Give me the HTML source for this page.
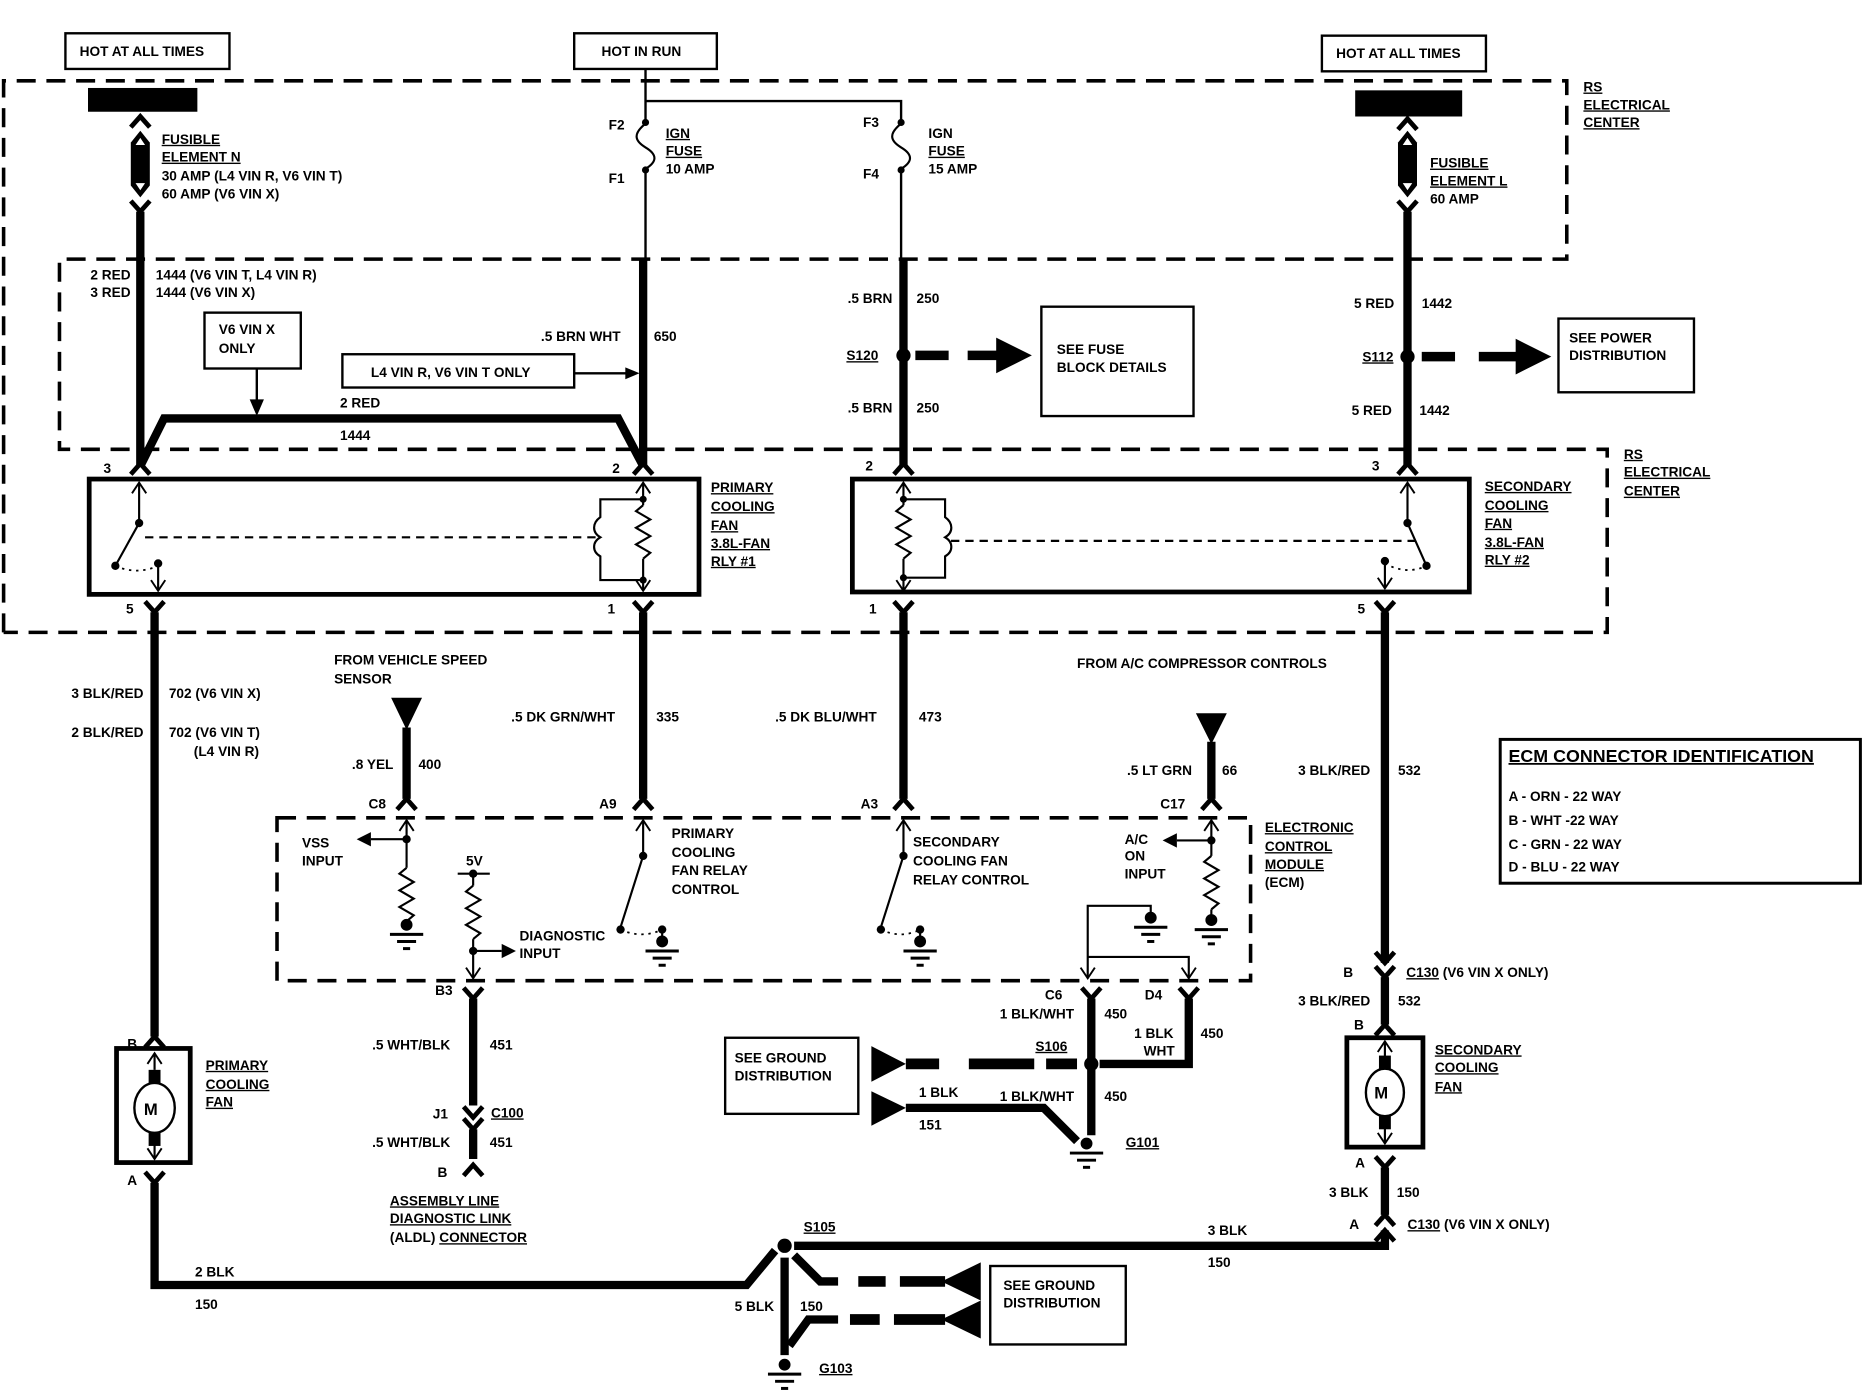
<!DOCTYPE html>
<html><head><meta charset="utf-8"><style>
html,body{margin:0;padding:0;background:#fff}
svg{display:block}
text{font-family:"Liberation Sans",sans-serif;font-weight:bold;font-size:11.5px;fill:#000}
.u{text-decoration:underline}
</style></head><body>
<svg width="1864" height="1392" viewBox="0 0 1568 1171" xmlns="http://www.w3.org/2000/svg">
<defs>
<g id="gnd"><circle cx="0" cy="0" r="5"/><line x1="-14" y1="8" x2="14" y2="8" stroke="#000" stroke-width="2.5"/><line x1="-8" y1="14" x2="8" y2="14" stroke="#000" stroke-width="2.5"/><line x1="-3" y1="20" x2="3" y2="20" stroke="#000" stroke-width="2.5"/></g>
<path id="up" d="M-8,9 L0,0 L8,9" fill="none" stroke="#000" stroke-width="4"/>
<path id="dn" d="M-8,-9 L0,0 L8,-9" fill="none" stroke="#000" stroke-width="4"/>
<path id="tup" d="M-6,9 L0,0 L6,9" fill="none" stroke="#000" stroke-width="1.6"/>
<path id="tdn" d="M-6,-9 L0,0 L6,-9" fill="none" stroke="#000" stroke-width="1.6"/>
<path id="res" d="M0,0 L-6,5 L6,12 L-6,19 L6,26 L-6,33 L6,40 L0,45" fill="none" stroke="#000" stroke-width="1.8"/>
</defs>
<g fill="none" stroke="#000">
<!-- top boxes -->
<rect x="55" y="28" width="138" height="30" stroke-width="2"/>
<rect x="483" y="28" width="120" height="30" stroke-width="2"/>
<rect x="1112" y="30" width="138" height="30" stroke-width="2"/>
<!-- dashed regions -->
<path d="M3,532 V68 H1318 V218 H50 V378 H1352 V532 H3" stroke-width="3" stroke-dasharray="16 9"/>
<rect x="233" y="688" width="819" height="137" stroke-width="3" stroke-dasharray="16 9"/>
<!-- left feed -->
<use href="#up" x="118" y="98"/>
<use href="#dn" x="118" y="178"/>
<line x1="118" y1="178" x2="118" y2="392" stroke-width="7"/>
<polyline points="118,392 138,352 520,352 541,392" stroke-width="7"/>
<rect x="172" y="263" width="81" height="47" stroke-width="2"/>
<line x1="216" y1="310" x2="216" y2="340" stroke-width="2"/>
<rect x="288" y="298" width="195" height="28" stroke-width="2"/>
<line x1="483" y1="314" x2="528" y2="314" stroke-width="2"/>
<!-- hot in run -->
<path d="M543,58 V102 M543,142 V218 M543,85 H758 V102 M758,142 V218" stroke-width="2"/>
<path d="M543,104 C533,112 533,118 543,124 C553,130 553,136 543,142" stroke-width="1.8"/>
<path d="M758,104 C748,112 748,118 758,124 C768,130 768,136 758,142" stroke-width="1.8"/>
<line x1="541" y1="218" x2="541" y2="392" stroke-width="7"/>
<line x1="760" y1="218" x2="760" y2="392" stroke-width="7"/>
<line x1="770" y1="299" x2="798" y2="299" stroke-width="8"/>
<line x1="814" y1="299" x2="842" y2="299" stroke-width="8"/>
<rect x="876" y="258" width="128" height="92" stroke-width="2"/>
<!-- right feed -->
<use href="#up" x="1184" y="100"/>
<use href="#dn" x="1184" y="178"/>
<line x1="1184" y1="178" x2="1184" y2="392" stroke-width="7"/>
<line x1="1196" y1="300" x2="1224" y2="300" stroke-width="8"/>
<line x1="1244" y1="300" x2="1278" y2="300" stroke-width="8"/>
<rect x="1311" y="268" width="114" height="62" stroke-width="2"/>
<!-- relay 1 -->
<rect x="75" y="403" width="513" height="97" stroke-width="4"/>
<use href="#up" x="118" y="390"/><use href="#up" x="541" y="390"/>
<use href="#tup" x="117" y="406"/><use href="#tup" x="541" y="406"/>
<path d="M117,406 V440 L97,476" stroke-width="1.8"/>
<path d="M97,476 Q115,484 133,476" stroke-width="1.5" stroke-dasharray="2 4"/>
<path d="M133,474 V497" stroke-width="1.8"/><use href="#tdn" x="133" y="497"/>
<line x1="122" y1="452" x2="503" y2="452" stroke-width="1.8" stroke-dasharray="7 5"/>
<path d="M541,406 V425 M541,470 V497" stroke-width="1.8"/><use href="#res" x="541" y="425"/>
<path d="M541,420 H505 V435 C498,440 498,448 505,452 C498,456 498,464 505,468 V488 H541" stroke-width="1.8"/>
<use href="#tdn" x="541" y="497"/>
<use href="#dn" x="130" y="515"/><use href="#dn" x="541" y="515"/>
<!-- relay 2 -->
<rect x="717" y="403" width="519" height="95" stroke-width="4"/>
<use href="#up" x="760" y="390"/><use href="#up" x="1184" y="390"/>
<use href="#tup" x="760" y="406"/><use href="#tup" x="1184" y="406"/>
<path d="M760,406 V425 M760,470 V497" stroke-width="1.8"/><use href="#res" x="760" y="425"/>
<path d="M760,420 H795 V435 C802,440 802,448 795,452 C802,456 802,464 795,468 V486 H760" stroke-width="1.8"/>
<use href="#tdn" x="760" y="497"/>
<line x1="800" y1="455" x2="1193" y2="455" stroke-width="1.8" stroke-dasharray="7 5"/>
<path d="M1184,406 V440 L1200,476" stroke-width="1.8"/>
<path d="M1165,474 Q1183,484 1200,476" stroke-width="1.5" stroke-dasharray="2 4"/>
<path d="M1165,472 V495" stroke-width="1.8"/><use href="#tdn" x="1165" y="495"/>
<use href="#dn" x="760" y="515"/><use href="#dn" x="1165" y="515"/>
<!-- down wires -->
<line x1="130" y1="515" x2="130" y2="872" stroke-width="7"/>
<line x1="541" y1="515" x2="541" y2="672" stroke-width="7"/>
<line x1="760" y1="515" x2="760" y2="672" stroke-width="7"/>
<line x1="1165" y1="515" x2="1165" y2="810" stroke-width="7"/>
<line x1="342" y1="612" x2="342" y2="672" stroke-width="7"/>
<line x1="1019" y1="624" x2="1019" y2="672" stroke-width="7"/>
<use href="#up" x="130" y="872"/><use href="#up" x="342" y="672"/><use href="#up" x="541" y="672"/><use href="#up" x="760" y="672"/><use href="#up" x="1019" y="672"/>
<use href="#tup" x="342" y="690"/><use href="#tup" x="541" y="690"/><use href="#tup" x="760" y="690"/><use href="#tup" x="1019" y="690"/>
<!-- ECM internals -->
<path d="M342,690 V730 M342,775 V778 M342,706 H312" stroke-width="1.8"/><use href="#res" x="342" y="730"/>
<path d="M385,735 H412 M398,735 V745 M398,790 V823 M398,800 H422" stroke-width="1.8"/><use href="#res" x="398" y="745"/>
<use href="#tdn" x="398" y="823"/>
<path d="M541,690 V720 L522,780 M557,782 V790" stroke-width="1.8"/>
<path d="M522,782 Q540,790 557,782" stroke-width="1.5" stroke-dasharray="2 4"/>
<path d="M760,690 V720 L741,780 M774,782 V790" stroke-width="1.8"/>
<path d="M741,782 Q758,790 774,782" stroke-width="1.5" stroke-dasharray="2 4"/>
<path d="M1019,690 V720 M1019,765 V772 M1019,707 H990" stroke-width="1.8"/><use href="#res" x="1019" y="720"/>
<path d="M968,770 V762 H915 V823 M915,805 H1000 V823" stroke-width="1.8"/>
<use href="#tdn" x="915" y="823"/><use href="#tdn" x="1000" y="823"/>
<!-- lower ECM -->
<use href="#dn" x="398" y="840"/><use href="#dn" x="918" y="840"/><use href="#dn" x="1000" y="840"/>
<line x1="398" y1="840" x2="398" y2="930" stroke-width="7"/>
<use href="#dn" x="398" y="940"/><use href="#dn" x="398" y="950"/>
<line x1="398" y1="950" x2="398" y2="975" stroke-width="7"/>
<use href="#up" x="398" y="980"/>
<line x1="918" y1="840" x2="918" y2="955" stroke-width="7"/>
<polyline points="1000,840 1000,895 925,895" stroke-width="7"/>
<line x1="762" y1="895" x2="790" y2="895" stroke-width="9"/>
<line x1="815" y1="895" x2="870" y2="895" stroke-width="9"/>
<line x1="880" y1="895" x2="906" y2="895" stroke-width="9"/>
<rect x="610" y="873" width="112" height="64" stroke-width="2"/>
<polyline points="762,932 878,932 906,960" stroke-width="7"/>
<!-- secondary fan -->
<use href="#dn" x="1165" y="810"/><use href="#dn" x="1165" y="822"/>
<line x1="1165" y1="822" x2="1165" y2="862" stroke-width="7"/>
<use href="#up" x="1165" y="862"/>
<rect x="1133" y="873" width="64" height="92" stroke-width="4"/>
<use href="#tup" x="1165" y="876"/>
<path d="M1165,876 V890 M1165,940 V962" stroke-width="1.8"/>
<rect x="1160" y="888" width="10" height="14" fill="#000" stroke="none"/>
<rect x="1160" y="936" width="10" height="14" fill="#000" stroke="none"/>
<ellipse cx="1165" cy="919" rx="16" ry="20" stroke-width="2" fill="#fff"/>
<use href="#tdn" x="1165" y="962"/>
<use href="#dn" x="1165" y="982"/>
<line x1="1165" y1="982" x2="1165" y2="1022" stroke-width="7"/>
<use href="#up" x="1165" y="1022"/>
<use href="#up" x="1165" y="1035"/>
<!-- primary fan -->
<rect x="98" y="882" width="62" height="96" stroke-width="4"/>
<use href="#tup" x="130" y="886"/>
<path d="M130,886 V900 M130,952 V975" stroke-width="1.8"/>
<rect x="125" y="900" width="10" height="14" fill="#000" stroke="none"/>
<rect x="125" y="950" width="10" height="14" fill="#000" stroke="none"/>
<ellipse cx="130" cy="932" rx="17" ry="21" stroke-width="2" fill="#fff"/>
<use href="#tdn" x="130" y="975"/>
<use href="#dn" x="130" y="995"/>
<polyline points="130,995 130,1081 628,1081 652,1052" stroke-width="7"/>
<polyline points="668,1048 1165,1048 1165,1035" stroke-width="7"/>
<polyline points="660,1058 660,1140" stroke-width="7"/>
<polyline points="668,1056 690,1078 705,1078" stroke-width="7"/>
<line x1="722" y1="1078" x2="745" y2="1078" stroke-width="9"/><line x1="757" y1="1078" x2="795" y2="1078" stroke-width="9"/>
<polyline points="664,1132 680,1110 705,1110" stroke-width="7"/>
<line x1="715" y1="1110" x2="740" y2="1110" stroke-width="9"/><line x1="752" y1="1110" x2="795" y2="1110" stroke-width="9"/>
<rect x="833" y="1065" width="114" height="66" stroke-width="2"/>
<!-- ECM id box -->
<rect x="1262" y="622" width="303" height="121" stroke-width="2.5"/>
</g>
<g fill="#000">
<rect x="74" y="74" width="92" height="20"/>
<rect x="1140" y="76" width="90" height="22"/>
<path d="M110,120 L118,110 L126,120 V156 L118,166 L110,156 Z"/>
<path d="M1176,120 L1184,110 L1192,120 V156 L1184,166 L1176,156 Z"/>
<path d="M114,122 L118,116 L122,122 Z M114,154 L118,160 L122,154 Z M1180,122 L1184,116 L1188,122 Z M1180,154 L1184,160 L1188,154 Z" fill="#fff"/>
<circle cx="543" cy="103" r="3"/><circle cx="543" cy="143" r="3"/><circle cx="758" cy="103" r="3"/><circle cx="758" cy="143" r="3"/>
<path d="M210,336 L216,350 L222,336 Z"/>
<path d="M526,309 L538,314 L526,319 Z"/>
<circle cx="760" cy="299" r="6"/><path d="M838,284 L868,299 L838,314 Z"/>
<circle cx="1184" cy="300" r="6"/><path d="M1275,285 L1305,300 L1275,315 Z"/>
<circle cx="117" cy="440" r="3.5"/><circle cx="97" cy="476" r="3.5"/><circle cx="133" cy="474" r="3.5"/>
<circle cx="541" cy="420" r="3"/><circle cx="541" cy="488" r="3"/>
<circle cx="760" cy="420" r="3"/><circle cx="760" cy="486" r="3"/>
<circle cx="1184" cy="440" r="3.5"/><circle cx="1200" cy="476" r="3.5"/><circle cx="1165" cy="472" r="3.5"/>
<path d="M329,587 L355,587 L342,614 Z"/><path d="M1006,600 L1032,600 L1019,626 Z"/>
<circle cx="342" cy="706" r="3.5"/><path d="M312,700 L300,706 L312,712 Z"/>
<circle cx="398" cy="735" r="3.5"/><circle cx="398" cy="800" r="3.5"/><path d="M422,794 L434,800 L422,806 Z"/>
<circle cx="541" cy="720" r="3.5"/><circle cx="522" cy="782" r="3.5"/><circle cx="557" cy="782" r="3.5"/>
<circle cx="760" cy="720" r="3.5"/><circle cx="741" cy="782" r="3.5"/><circle cx="774" cy="782" r="3.5"/>
<circle cx="1019" cy="707" r="3.5"/><path d="M990,701 L978,707 L990,713 Z"/>
<use href="#gnd" x="342" y="778"/><use href="#gnd" x="557" y="792"/><use href="#gnd" x="774" y="792"/><use href="#gnd" x="968" y="772"/><use href="#gnd" x="1019" y="774"/>
<circle cx="918" cy="895" r="6"/>
<path d="M733,880 L762,895 L733,910 Z"/><path d="M733,918 L762,932 L733,947 Z"/>
<use href="#gnd" x="914" y="962"/>
<circle cx="660" cy="1048" r="6"/>
<path d="M825,1062 L792,1078 L825,1094 Z"/><path d="M825,1094 L792,1110 L825,1126 Z"/>
<use href="#gnd" x="660" y="1148"/>
</g>
<g>
<text x="67" y="47">HOT AT ALL TIMES</text>
<text x="506" y="47">HOT IN RUN</text>
<text x="1124" y="49">HOT AT ALL TIMES</text>
<text x="136" y="121" class="u">FUSIBLE</text><text x="136" y="136" class="u">ELEMENT N</text>
<text x="136" y="152">30 AMP (L4 VIN R, V6 VIN T)</text><text x="136" y="167">60 AMP (V6 VIN X)</text>
<text x="512" y="109">F2</text><text x="512" y="154">F1</text>
<text x="560" y="116" class="u">IGN</text><text x="560" y="131" class="u">FUSE</text><text x="560" y="146">10 AMP</text>
<text x="726" y="107">F3</text><text x="726" y="150">F4</text>
<text x="781" y="116">IGN</text><text x="781" y="131" class="u">FUSE</text><text x="781" y="146">15 AMP</text>
<text x="1332" y="77" class="u">RS</text><text x="1332" y="92" class="u">ELECTRICAL</text><text x="1332" y="107" class="u">CENTER</text>
<text x="1203" y="141" class="u">FUSIBLE</text><text x="1203" y="156" class="u">ELEMENT L</text><text x="1203" y="171">60 AMP</text>
<text x="76" y="235">2 RED</text><text x="131" y="235">1444 (V6 VIN T, L4 VIN R)</text>
<text x="76" y="250">3 RED</text><text x="131" y="250">1444 (V6 VIN X)</text>
<text x="184" y="281">V6 VIN X</text><text x="184" y="297">ONLY</text>
<text x="312" y="317">L4 VIN R, V6 VIN T ONLY</text>
<text x="455" y="287">.5 BRN WHT</text><text x="550" y="287">650</text>
<text x="286" y="343">2 RED</text><text x="286" y="370">1444</text>
<text x="713" y="255">.5 BRN</text><text x="771" y="255">250</text>
<text x="713" y="347">.5 BRN</text><text x="771" y="347">250</text>
<text x="712" y="303" class="u">S120</text>
<text x="889" y="298">SEE FUSE</text><text x="889" y="313">BLOCK DETAILS</text>
<text x="1139" y="259">5 RED</text><text x="1196" y="259">1442</text>
<text x="1137" y="349">5 RED</text><text x="1194" y="349">1442</text>
<text x="1146" y="304" class="u">S112</text>
<text x="1320" y="288">SEE POWER</text><text x="1320" y="303">DISTRIBUTION</text>
<text x="87" y="398">3</text><text x="515" y="398">2</text><text x="728" y="396">2</text><text x="1154" y="396">3</text>
<text x="106" y="516">5</text><text x="511" y="516">1</text><text x="731" y="516">1</text><text x="1142" y="516">5</text>
<text x="598" y="414" class="u">PRIMARY</text><text x="598" y="430" class="u">COOLING</text><text x="598" y="446" class="u">FAN</text><text x="598" y="461" class="u">3.8L-FAN</text><text x="598" y="476" class="u">RLY #1</text>
<text x="1249" y="413" class="u">SECONDARY</text><text x="1249" y="429" class="u">COOLING</text><text x="1249" y="444" class="u">FAN</text><text x="1249" y="460" class="u">3.8L-FAN</text><text x="1249" y="475" class="u">RLY #2</text>
<text x="1366" y="386" class="u">RS</text><text x="1366" y="401" class="u">ELECTRICAL</text><text x="1366" y="417" class="u">CENTER</text>
<text x="281" y="559">FROM VEHICLE SPEED</text><text x="281" y="575">SENSOR</text>
<text x="906" y="562">FROM A/C COMPRESSOR CONTROLS</text>
<text x="60" y="587">3 BLK/RED</text><text x="142" y="587">702 (V6 VIN X)</text>
<text x="60" y="620">2 BLK/RED</text><text x="142" y="620">702 (V6 VIN T)</text><text x="163" y="636">(L4 VIN R)</text>
<text x="296" y="647">.8 YEL</text><text x="352" y="647">400</text>
<text x="430" y="607">.5 DK GRN/WHT</text><text x="552" y="607">335</text>
<text x="652" y="607">.5 DK BLU/WHT</text><text x="773" y="607">473</text>
<text x="948" y="652">.5 LT GRN</text><text x="1028" y="652">66</text>
<text x="1092" y="652">3 BLK/RED</text><text x="1176" y="652">532</text>
<text x="310" y="680">C8</text><text x="504" y="680">A9</text><text x="724" y="680">A3</text><text x="976" y="680">C17</text>
<text x="254" y="713">VSS</text><text x="254" y="728">INPUT</text>
<text x="392" y="728">5V</text>
<text x="437" y="791">DIAGNOSTIC</text><text x="437" y="806">INPUT</text>
<text x="565" y="705">PRIMARY</text><text x="565" y="721">COOLING</text><text x="565" y="736">FAN RELAY</text><text x="565" y="752">CONTROL</text>
<text x="768" y="712">SECONDARY</text><text x="768" y="728">COOLING FAN</text><text x="768" y="744">RELAY CONTROL</text>
<text x="946" y="710">A/C</text><text x="946" y="724">ON</text><text x="946" y="739">INPUT</text>
<text x="1064" y="700" class="u">ELECTRONIC</text><text x="1064" y="716" class="u">CONTROL</text><text x="1064" y="731" class="u">MODULE</text><text x="1064" y="746">(ECM)</text>
<text x="1269" y="641" class="u" style="font-size:15px">ECM CONNECTOR IDENTIFICATION</text>
<text x="1269" y="674">A - ORN - 22 WAY</text><text x="1269" y="694">B - WHT -22 WAY</text><text x="1269" y="714">C - GRN - 22 WAY</text><text x="1269" y="733">D - BLU - 22 WAY</text>
<text x="1130" y="822">B</text><text x="1183" y="822"><tspan class="u">C130</tspan> (V6 VIN X ONLY)</text>
<text x="1092" y="846">3 BLK/RED</text><text x="1176" y="846">532</text>
<text x="1139" y="866">B</text>
<text x="1207" y="887" class="u">SECONDARY</text><text x="1207" y="902" class="u">COOLING</text><text x="1207" y="918" class="u">FAN</text>
<text x="1156" y="924" style="font-size:14px">M</text>
<text x="1140" y="982">A</text>
<text x="1118" y="1007">3 BLK</text><text x="1175" y="1007">150</text>
<text x="1135" y="1034">A</text><text x="1184" y="1034"><tspan class="u">C130</tspan> (V6 VIN X ONLY)</text>
<text x="1016" y="1039">3 BLK</text><text x="1016" y="1066">150</text>
<text x="366" y="837">B3</text><text x="879" y="841">C6</text><text x="963" y="841">D4</text>
<text x="841" y="857">1 BLK/WHT</text><text x="929" y="857">450</text>
<text x="954" y="873">1 BLK</text><text x="962" y="888">WHT</text><text x="1010" y="873">450</text>
<text x="313" y="883">.5 WHT/BLK</text><text x="412" y="883">451</text>
<text x="364" y="941">J1</text><text x="413" y="940" class="u">C100</text>
<text x="313" y="965">.5 WHT/BLK</text><text x="412" y="965">451</text>
<text x="368" y="990">B</text>
<text x="328" y="1014" class="u">ASSEMBLY LINE</text><text x="328" y="1029" class="u">DIAGNOSTIC LINK</text><text x="328" y="1045">(ALDL) <tspan class="u">CONNECTOR</tspan></text>
<text x="618" y="894">SEE GROUND</text><text x="618" y="909">DISTRIBUTION</text>
<text x="871" y="884" class="u">S106</text>
<text x="773" y="923">1 BLK</text><text x="773" y="950">151</text>
<text x="841" y="926">1 BLK/WHT</text><text x="929" y="926">450</text>
<text x="947" y="965" class="u">G101</text>
<text x="107" y="882">B</text><text x="107" y="997">A</text>
<text x="173" y="900" class="u">PRIMARY</text><text x="173" y="916" class="u">COOLING</text><text x="173" y="931" class="u">FAN</text>
<text x="121" y="938" style="font-size:14px">M</text>
<text x="164" y="1074">2 BLK</text><text x="164" y="1101">150</text>
<text x="676" y="1036" class="u">S105</text>
<text x="618" y="1103">5 BLK</text><text x="673" y="1103">150</text>
<text x="844" y="1085">SEE GROUND</text><text x="844" y="1100">DISTRIBUTION</text>
<text x="689" y="1155" class="u">G103</text>
</g>
</svg>
</body></html>
